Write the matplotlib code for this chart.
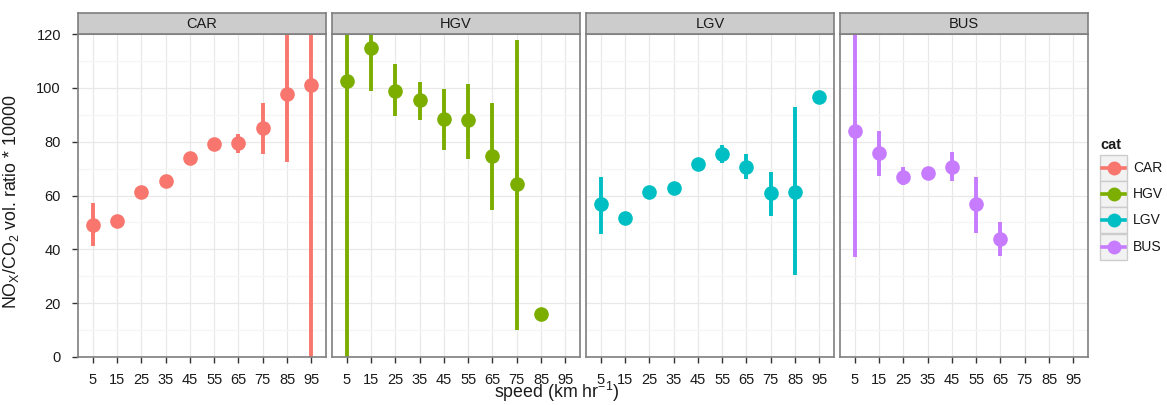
import numpy as np
import matplotlib
matplotlib.use("Agg")
import matplotlib.pyplot as plt
from matplotlib.patches import Rectangle
from matplotlib.lines import Line2D

plt.rcParams['font.family'] = ['Liberation Sans', 'DejaVu Sans']
plt.rcParams['mathtext.default'] = 'regular'

nan = np.nan
speeds = [5, 15, 25, 35, 45, 55, 65, 75, 85, 95]
cats = ['CAR', 'HGV', 'LGV', 'BUS']
colors = ['#F8766D', '#7CAE00', '#00BFC4', '#C77CFF']

# mean ratio per speed bin, with lower / upper ends of the bars
car_mean = [49.0, 50.4, 61.4, 65.5, 74.1, 79.0, 79.4, 85.0, 97.8, 100.9]
car_lo = [41.2, 49.3, 60.3, 64.5, 73.0, 77.2, 75.9, 75.4, 72.6, -10]
car_hi = [57.1, 51.5, 62.5, 66.6, 75.2, 81.3, 82.9, 94.3, 130, 140]

hgv_mean = [102.4, 114.7, 99.0, 95.3, 88.4, 87.9, 74.5, 64.2, 15.8, nan]
hgv_lo = [-15, 99.0, 89.4, 88.1, 76.9, 73.7, 54.6, 10.2, 15.0, nan]
hgv_hi = [135, 130, 108.8, 102.3, 99.5, 101.5, 94.3, 117.9, 16.6, nan]

lgv_mean = [56.7, 51.7, 61.4, 62.9, 71.6, 75.3, 70.7, 60.8, 61.3, 96.5]
lgv_lo = [45.7, 50.6, 60.3, 61.8, 70.5, 72.2, 66.1, 52.5, 30.3, 95.5]
lgv_hi = [67.0, 52.8, 62.5, 64.0, 72.7, 78.6, 75.4, 68.8, 92.7, 97.5]

bus_mean = [84.1, 75.7, 67.0, 68.3, 70.7, 56.7, 43.9, nan, nan, nan]
bus_lo = [37.2, 67.4, 63.9, 67.0, 65.4, 45.9, 37.5, nan, nan, nan]
bus_hi = [135, 84.0, 70.5, 69.6, 76.1, 67.0, 50.3, nan, nan, nan]

means = [car_mean, hgv_mean, lgv_mean, bus_mean]
lows = [car_lo, hgv_lo, lgv_lo, bus_lo]
highs = [car_hi, hgv_hi, lgv_hi, bus_hi]

W, H = 1167, 405
fig = plt.figure(figsize=(W / 100, H / 100), dpi=100)

border = '#7F7F7F'
txt = '#1A1A1A'
left0, pw, gap = 78, 248, 6
top, bottom, strip_top = 34, 357, 13

for i, cat in enumerate(cats):
    x0 = left0 + i * (pw + gap)
    ax = fig.add_axes([x0 / W, (H - bottom) / H, pw / W, (bottom - top) / H])
    ax.set_xlim(-1, 101)
    ax.set_ylim(0, 120)
    ax.set_xticks(speeds)
    ax.set_xticklabels([str(s) for s in speeds])
    ax.set_yticks(range(0, 121, 20))
    ax.set_yticks(range(10, 120, 20), minor=True)
    ax.grid(True, which='major', color='#E8E8E8', lw=0.9, zorder=0)
    ax.grid(True, which='minor', axis='y', color='#F5F5F5', lw=0.9, zorder=0)
    ax.set_axisbelow(True)
    for sp in ax.spines.values():
        sp.set_color(border)
        sp.set_linewidth(1.2)
    ax.tick_params(axis='both', which='major', length=4.3, width=1, color='#333333',
                   labelsize=10.5, labelcolor=txt)
    ax.tick_params(axis='x', which='major', pad=7)
    ax.tick_params(axis='y', which='major', pad=8)
    ax.tick_params(axis='y', which='minor', length=0)
    if i > 0:
        ax.tick_params(axis='y', which='major', left=False, labelleft=False)

    m = np.array(means[i], dtype=float)
    lo = np.array(lows[i], dtype=float)
    hi = np.array(highs[i], dtype=float)
    ok = ~np.isnan(m)
    xs = np.array(speeds)[ok]
    ax.vlines(xs, lo[ok], hi[ok], color=colors[i], lw=2.8, zorder=2)
    ax.plot(xs, m[ok], 'o', color=colors[i], ms=9.5, zorder=3)

    if i == 0:
        ax.set_ylabel('NO$_X$/CO$_2$ vol. ratio * 10000', fontsize=12.8, color=txt)
        ax.yaxis.set_label_coords((21 - x0) / pw, 0.48)

    sax = fig.add_axes([x0 / W, (H - top) / H, pw / W, (top - strip_top) / H])
    sax.set_facecolor('#CCCCCC')
    sax.set_xticks([])
    sax.set_yticks([])
    for sp in sax.spines.values():
        sp.set_color(border)
        sp.set_linewidth(1.2)
    sax.text(0.5, 0.5, cat, ha='center', va='center', fontsize=10.5, color=txt,
             transform=sax.transAxes)

fig.text(557 / W, 1 - 398 / H, 'speed (km hr$^{-1}$)', ha='center', va='baseline',
         fontsize=12.8, color=txt)

# legend
lax = fig.add_axes([0, 0, 1, 1])
lax.set_xlim(0, W)
lax.set_ylim(H, 0)
lax.axis('off')
lax.text(1100, 145, 'cat', fontsize=10.5, fontweight='bold', va='center', ha='left', color=txt)
for k, cat in enumerate(cats):
    y0 = 155 + k * 26.2
    lax.add_patch(Rectangle((1100, y0), 27, 26, facecolor='#F2F2F2', edgecolor='#CCCCCC', lw=1))
    lax.add_line(Line2D([1102, 1125], [y0 + 13, y0 + 13], color=colors[k], lw=2.6))
    lax.plot([1113.5], [y0 + 13], 'o', color=colors[k], ms=9)
    lax.text(1133, y0 + 13, cat, fontsize=10, va='center', ha='left', color=txt)

fig.savefig('out.png', dpi=100)
